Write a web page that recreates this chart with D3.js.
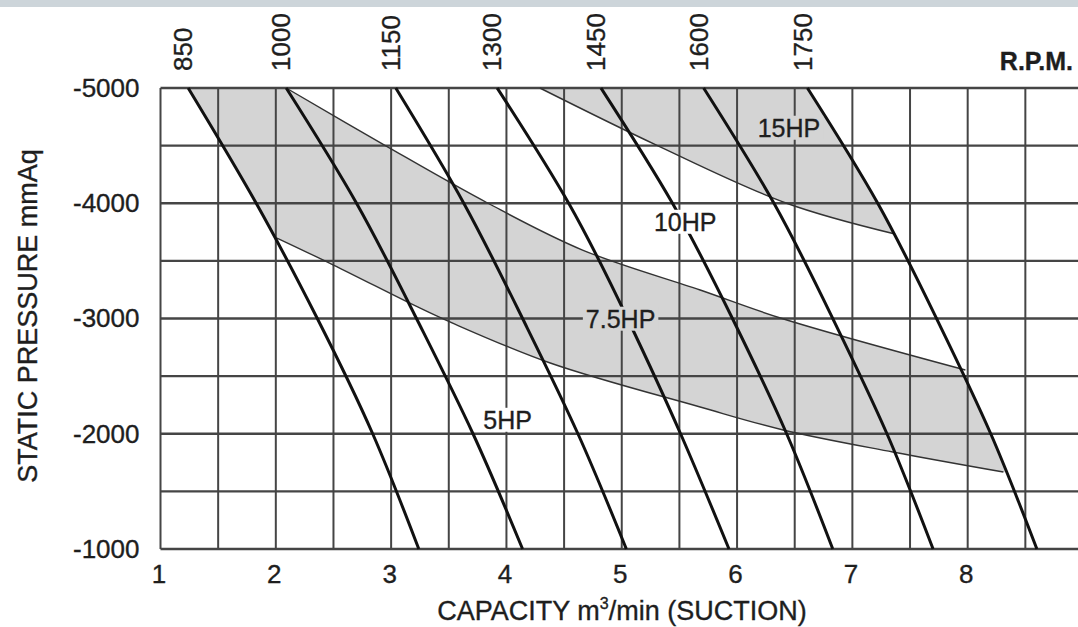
<!DOCTYPE html>
<html>
<head>
<meta charset="utf-8">
<script src="https://cdn.jsdelivr.net/npm/d3@7"></script>
<style>
  body { margin: 0; background: #fff; }
  text { font-family: "Liberation Sans", Arial, sans-serif; fill: #1e1e1e; stroke: #1e1e1e; stroke-width: 0.35; }
</style>
</head>
<body>
<svg id="chart" width="1078" height="627"></svg>
<script>
// static pressure levels (mmAq) at which each fan curve was read
var pressures = [-5000, -4000, -3000, -2000, -1000];

// capacity (m3/min) of each RPM curve at those pressures
var rpmNames = ["850", "1000", "1150", "1300", "1450", "1600", "1750"];
var rpm850 = [1.24, 1.83, 2.36, 2.84, 3.24];
var rpm1000 = [2.09, 2.7, 3.22, 3.71, 4.14];
var rpm1150 = [3.04, 3.63, 4.14, 4.62, 5.04];
var rpm1300 = [3.92, 4.54, 5.05, 5.51, 5.93];
var rpm1450 = [4.82, 5.44, 5.96, 6.43, 6.83];
var rpm1600 = [5.71, 6.32, 6.83, 7.3, 7.7];
var rpm1750 = [6.61, 7.22, 7.73, 8.2, 8.6];
var rpmCurves = [rpm850, rpm1000, rpm1150, rpm1300, rpm1450, rpm1600, rpm1750];

// motor power limit lines [capacity, pressure]
var hp5Line = [[2.01, -3698], [2.5, -3464], [3.23, -3100], [3.51, -2970], [4.38, -2614],
  [5.68, -2232], [6.4, -2033], [7.35, -1842], [8.31, -1668]];
var hp75Line = [[2.09, -5000], [2.95, -4500], [3.84, -4000], [4.66, -3594], [5.68, -3247],
  [6.39, -3000], [7.98, -2553]];
var hp10Line = [[4.29, -5000], [5.31, -4500], [6.43, -4000], [7.37, -3733]];

// zone labels and where they sit (capacity, pressure)
var hpNames = ["5HP", "7.5HP", "10HP", "15HP"];
var hpLabelAt = [[4.01, -2119], [4.99, -2996], [5.55, -3837], [6.45, -4653]];
var shadedZones = ["7.5HP", "15HP"];

var xTicks = [1, 2, 3, 4, 5, 6, 7, 8];
var yTicks = [-5000, -4000, -3000, -2000, -1000];

var width = 1078, height = 627;
var gray = "#d4d4d4";
var svg = d3.select("#chart");

var x = d3.scaleLinear().domain([1, 9]).range([160.5, 1083]);
var y = d3.scaleLinear().domain([-5000, -1000]).range([88, 549]);

// fan curves: smooth natural spline
var fanLine = d3.line()
  .x(function (d) { return x(d[0]); })
  .y(function (d) { return y(d[1]); })
  .curve(d3.curveNatural);
// power lines
var line = d3.line()
  .x(function (d) { return x(d[0]); })
  .y(function (d) { return y(d[1]); })
  .curve(d3.curveCatmullRom.alpha(0.5));

function pts(caps) {
  return caps.map(function (c, i) { return [c, pressures[i]]; });
}
// path continuing from the current point
function cont(gen, p) { return "L" + gen(p).slice(1); }

// top strip of the page
svg.append("rect").attr("width", width).attr("height", 7).attr("fill", "#cdd5da");

// area between the 850 and 1750 rpm curves
var zone = fanLine(pts(rpm850)) + cont(fanLine, pts(rpm1750).reverse()) + "Z";
svg.append("clipPath").attr("id", "zone").append("path").attr("d", zone);

var band75 = "M" + x(0.5) + "," + y(-5000) + cont(line, hp75Line) +
  "L" + x(9.5) + "," + y(-2300) + "L" + x(9.5) + "," + y(-1500) +
  cont(line, hp5Line.slice().reverse()) + "L" + x(0.5) + "," + y(-3900) + "Z";
var band15 = "M" + x(hp10Line[0][0]) + "," + y(-5000) + cont(line, hp10Line) +
  "L" + x(9.5) + "," + y(-3500) + "L" + x(9.5) + "," + y(-5000) + "Z";

var fills = svg.append("g").attr("clip-path", "url(#zone)");
fills.selectAll("path").data([band75, band15]).join("path")
  .attr("d", function (d) { return d; })
  .attr("fill", gray);

// grid
var grid = svg.append("g").attr("stroke", "#454545");
grid.selectAll(".v").data(d3.range(1, 9.01, 0.5)).join("line")
  .attr("class", "v")
  .attr("x1", function (d) { return x(d); }).attr("x2", function (d) { return x(d); })
  .attr("y1", y(-5000)).attr("y2", y(-1000))
  .attr("stroke-width", 2);
grid.selectAll(".h").data(d3.range(-5000, -999, 500)).join("line")
  .attr("class", "h")
  .attr("x1", x(1)).attr("x2", width)
  .attr("y1", function (d) { return y(d); }).attr("y2", function (d) { return y(d); })
  .attr("stroke-width", 2.4);

// power limit lines
svg.append("g").selectAll("path").data([hp5Line, hp75Line, hp10Line]).join("path")
  .attr("d", line)
  .attr("fill", "none")
  .attr("stroke", "#333")
  .attr("stroke-width", 1.4);

// rpm curves
svg.append("g").selectAll("path").data(rpmCurves).join("path")
  .attr("d", function (d) { return fanLine(pts(d)); })
  .attr("fill", "none")
  .attr("stroke", "#111")
  .attr("stroke-width", 3);

// rpm labels above each curve
svg.append("g").selectAll("text").data(rpmNames).join("text")
  .attr("transform", function (d, i) {
    return "translate(" + (x(rpmCurves[i][0]) - 5) + ",71) rotate(-90)";
  })
  .attr("dy", "0.35em")
  .attr("font-size", 26)
  .text(function (d) { return d; });

svg.append("text")
  .attr("x", 1073).attr("y", 70)
  .attr("text-anchor", "end")
  .attr("font-size", 25)
  .attr("font-weight", "bold")
  .text("R.P.M.");

// zone labels, boxed so the lines stop at the text
var hpLab = svg.append("g").selectAll("g").data(hpNames).join("g")
  .attr("transform", function (d, i) {
    return "translate(" + x(hpLabelAt[i][0]) + "," + y(hpLabelAt[i][1]) + ")";
  });
hpLab.append("text")
  .attr("text-anchor", "middle")
  .attr("dy", "0.35em")
  .attr("font-size", 25)
  .text(function (d) { return d; });
hpLab.each(function (d) {
  var g = d3.select(this);
  var b = g.select("text").node().getBBox();
  g.insert("rect", "text")
    .attr("x", b.x - 3).attr("y", b.y + 2)
    .attr("width", b.width + 6).attr("height", b.height - 4)
    .attr("fill", shadedZones.indexOf(d) >= 0 ? gray : "#fff");
});

// axes
var xAxis = svg.append("g")
  .attr("transform", "translate(0," + y(-1000) + ")")
  .call(d3.axisBottom(x).tickValues(xTicks).tickSize(0).tickPadding(16)
    .tickFormat(function (d) { return String(d); }));
var yAxis = svg.append("g")
  .attr("transform", "translate(" + x(1) + ",0)")
  .call(d3.axisLeft(y).tickValues(yTicks).tickSize(0).tickPadding(21)
    .tickFormat(function (d) { return String(d); }));
[xAxis, yAxis].forEach(function (a) {
  a.select(".domain").remove();
  a.attr("font-size", 26).attr("font-family", null);
  a.selectAll("text").attr("fill", "#1e1e1e");
});
xAxis.selectAll("text").attr("dx", -2);

// axis titles
var xt = svg.append("text")
  .attr("x", 622).attr("y", 620)
  .attr("text-anchor", "middle")
  .attr("font-size", 27);
xt.append("tspan").text("CAPACITY m");
xt.append("tspan").attr("font-size", 16).attr("dy", -11).text("3");
xt.append("tspan").attr("dy", 11).text("/min (SUCTION)");

svg.append("text")
  .attr("transform", "translate(37,316) rotate(-90)")
  .attr("text-anchor", "middle")
  .attr("font-size", 27)
  .text("STATIC PRESSURE mmAq");
</script>
</body>
</html>
